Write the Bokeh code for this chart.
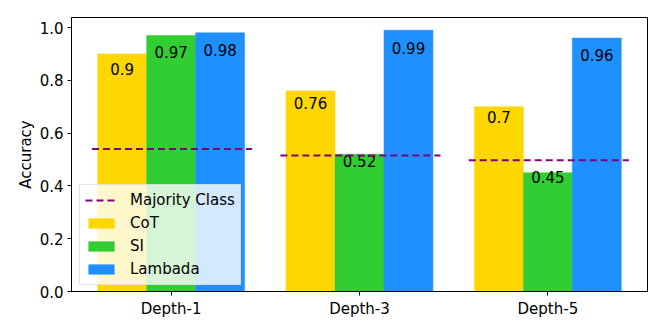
from bokeh.plotting import figure
from bokeh.models import (Range1d, FixedTicker, Legend, LegendItem, ColumnDataSource)
from bokeh.embed import file_html
from bokeh.resources import INLINE
from bokeh.core.properties import value

categories = ["Depth-1", "Depth-3", "Depth-5"]
cot = [0.90, 0.76, 0.70]
si = [0.97, 0.52, 0.45]
lambada = [0.98, 0.99, 0.96]
majority = [0.54, 0.515, 0.497]
series_names = ["CoT", "SI", "Lambada"]
colors = ["#FFD700", "#32CD32", "#1E90FF"]

FONT = "DejaVu Sans"
bar_w = 0.26
idx = list(range(len(categories)))

p = figure(frame_width=576, frame_height=274, output_backend="svg", toolbar_location=None,
           x_range=Range1d(-0.529, 2.529), y_range=Range1d(0, 1.038),
           min_border_left=71, min_border_right=9, min_border_top=17, min_border_bottom=33)
p.background_fill_color = "white"
p.border_fill_color = "white"
p.outline_line_color = "black"
p.outline_line_width = 1
p.xgrid.visible = False
p.ygrid.visible = False

bar_renderers = []
for k, (name, vals, col) in enumerate(zip(series_names, [cot, si, lambada], colors)):
    xs = [i + (k - 1) * bar_w for i in idx]
    src = ColumnDataSource(dict(x=xs, top=vals, lab=[f"{v:g}" for v in vals],
                                ly=[v * 0.91 for v in vals]))
    r = p.vbar(x="x", top="top", width=bar_w, bottom=0, source=src,
               fill_color=col, line_color=col, line_width=0.5)
    bar_renderers.append(r)
    p.text(x="x", y="ly", text="lab", source=src, text_align="center",
           text_baseline="alphabetic", y_offset=-6, text_font=value(FONT), text_font_size="15px",
           text_color="black")

maj_src = ColumnDataSource(dict(x0=[i - 0.42 for i in idx], x1=[i + 0.43 for i in idx],
                                y=majority))
maj = p.segment(x0="x0", x1="x1", y0="y", y1="y", source=maj_src,
                line_color="#800080", line_width=2, line_dash="7 4")

legend = Legend(items=[LegendItem(label="Majority Class", renderers=[maj])] +
                [LegendItem(label=n, renderers=[r]) for n, r in zip(series_names, bar_renderers)],
                location=(8, 6))
legend.label_text_font = FONT
legend.label_text_font_size = "15px"
legend.label_text_color = "black"
legend.glyph_width = 32
legend.glyph_height = 12
legend.label_height = 20
legend.label_standoff = 13
legend.spacing = 3
legend.padding = 5
legend.margin = 0
legend.background_fill_alpha = 0.8
legend.border_line_color = "#cccccc"
legend.border_line_width = 1
p.add_layout(legend, "center")

p.xaxis.ticker = FixedTicker(ticks=idx)
p.xaxis.major_label_overrides = {i: c for i, c in zip(idx, categories)}
p.yaxis.ticker = FixedTicker(ticks=[0.0, 0.2, 0.4, 0.6, 0.8, 1.0])
p.yaxis.major_label_overrides = {0.0: "0.0", 0.2: "0.2", 0.4: "0.4", 0.6: "0.6", 0.8: "0.8", 1.0: "1.0"}
p.yaxis.axis_label = "Accuracy"

for ax in (p.xaxis[0], p.yaxis[0]):
    ax.major_tick_in = 0
    ax.major_tick_out = 4
    ax.minor_tick_line_color = None
    ax.axis_line_color = "black"
    ax.major_tick_line_color = "black"
    ax.major_label_text_font = FONT
    ax.major_label_text_font_size = "15px"
    ax.major_label_text_color = "black"
    ax.axis_label_text_font = FONT
    ax.axis_label_text_font_size = "15px"
    ax.axis_label_text_font_style = "normal"
    ax.axis_label_text_color = "black"
    ax.major_label_standoff = 4
p.yaxis.axis_label_standoff = 2

open("out.html", "w").write(file_html(p, INLINE))
